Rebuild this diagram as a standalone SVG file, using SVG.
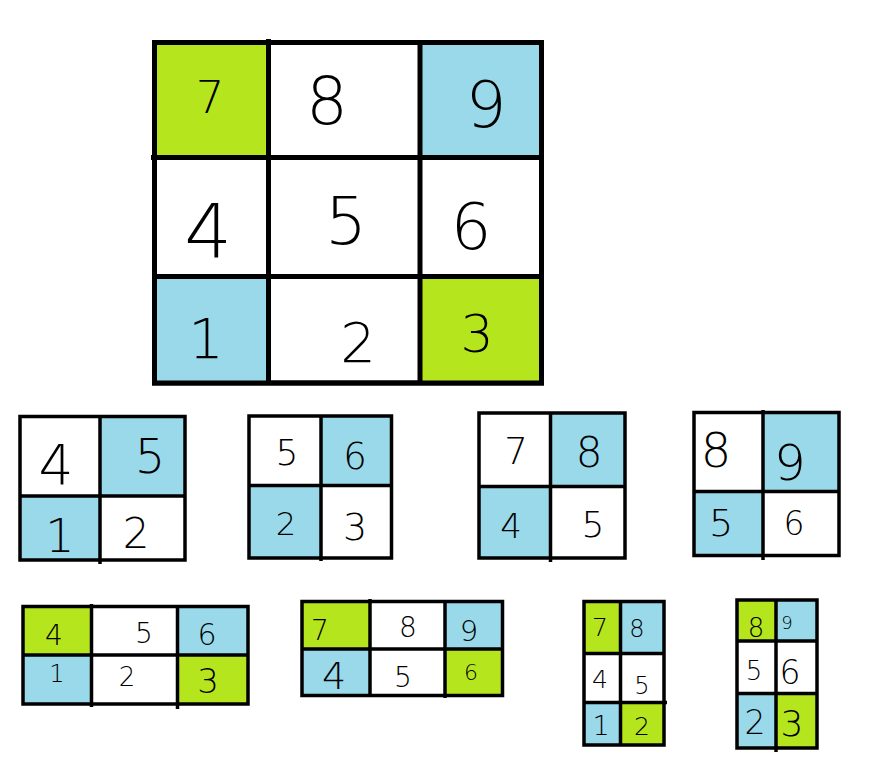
<svg xmlns="http://www.w3.org/2000/svg" width="870" height="760" viewBox="0 0 870 760">
<style>
.g{fill:#b5e61d}
.b{fill:#99d9ea}
.w{fill:#fff}
.o{fill:#fff;stroke:#000}
.l{stroke:#000;fill:none}
.t{font-family:"DejaVu Sans","Liberation Sans",sans-serif;font-weight:200;fill:#000;text-anchor:middle}
</style>
<rect width="870" height="760" fill="#fff"/>

<g id="grid-3x3">
<rect class="o" x="154.5" y="42.5" width="387" height="340.5" stroke-width="5"/>
<rect class="g" x="154.5" y="42.5" width="114" height="115"/>
<rect class="b" x="420" y="42.5" width="121.5" height="115"/>
<rect class="b" x="154.5" y="276.5" width="114" height="106.5"/>
<rect class="g" x="420" y="276.5" width="121.5" height="106.5"/>
<rect class="l" x="154.5" y="42.5" width="387" height="340.5" stroke-width="5"/>
<line class="l" x1="268.5" y1="39" x2="268.5" y2="385" stroke-width="5"/>
<line class="l" x1="420" y1="42" x2="420" y2="385" stroke-width="5"/>
<line class="l" x1="151" y1="157.5" x2="544" y2="157.5" stroke-width="5"/>
<line class="l" x1="152" y1="276.5" x2="544" y2="276.5" stroke-width="5"/>
<text class="t" x="210" y="113" font-size="45">7</text>
<text class="t" x="327" y="124" font-size="66">8</text>
<text class="t" x="486" y="127" font-size="64">9</text>
<text class="t" x="208" y="258" font-size="75">4</text>
<text class="t" x="346" y="244" font-size="66">5</text>
<text class="t" x="471" y="249" font-size="64">6</text>
<text class="t" x="206" y="358" font-size="56">1</text>
<text class="t" x="358" y="362" font-size="56">2</text>
<text class="t" x="477" y="352" font-size="52">3</text>
</g>

<g id="grid-a">
<rect class="w" x="20" y="416.5" width="165" height="143.5"/>
<rect class="b" x="100" y="416.5" width="85" height="79.5"/>
<rect class="b" x="20" y="496" width="80" height="64"/>
<rect class="l" x="20" y="416.5" width="165" height="143.5" stroke-width="3.5"/>
<line class="l" x1="100" y1="416" x2="100" y2="564" stroke-width="3.5"/>
<line class="l" x1="20" y1="496" x2="185" y2="496" stroke-width="3.5"/>
<text class="t" x="56" y="484" font-size="55">4</text>
<text class="t" x="150" y="472.5" font-size="48">5</text>
<text class="t" x="60" y="552" font-size="46">1</text>
<text class="t" x="136" y="548" font-size="42">2</text>
</g>

<g id="grid-b">
<rect class="w" x="249" y="416" width="142.5" height="142"/>
<rect class="b" x="321" y="416" width="70.5" height="69.5"/>
<rect class="b" x="249" y="485.5" width="72" height="72.5"/>
<rect class="l" x="249" y="416" width="142.5" height="142" stroke-width="3.5"/>
<line class="l" x1="321" y1="416" x2="321" y2="561" stroke-width="3.5"/>
<line class="l" x1="249" y1="485.5" x2="391.5" y2="485.5" stroke-width="3.5"/>
<text class="t" x="287" y="465" font-size="36">5</text>
<text class="t" x="355" y="468.5" font-size="37">6</text>
<text class="t" x="286" y="534.7" font-size="32">2</text>
<text class="t" x="355" y="540" font-size="38">3</text>
</g>

<g id="grid-c">
<rect class="w" x="479" y="413" width="146" height="145"/>
<rect class="b" x="550.5" y="413" width="74.5" height="73.5"/>
<rect class="b" x="479" y="486.5" width="71.5" height="71.5"/>
<rect class="l" x="479" y="413" width="146" height="145" stroke-width="3.5"/>
<line class="l" x1="550.5" y1="413" x2="550.5" y2="562" stroke-width="3.5"/>
<line class="l" x1="479" y1="486.5" x2="625" y2="486.5" stroke-width="3.5"/>
<text class="t" x="516" y="463.5" font-size="37">7</text>
<text class="t" x="589" y="467" font-size="42">8</text>
<text class="t" x="511" y="538.4" font-size="34">4</text>
<text class="t" x="593" y="537" font-size="36">5</text>
</g>

<g id="grid-d">
<rect class="w" x="694" y="412.5" width="145" height="143"/>
<rect class="b" x="763" y="412.5" width="76" height="79"/>
<rect class="b" x="694" y="491.5" width="69" height="64"/>
<rect class="l" x="694" y="412.5" width="145" height="143" stroke-width="3.5"/>
<line class="l" x1="763" y1="410" x2="763" y2="560" stroke-width="3.5"/>
<line class="l" x1="694" y1="491.5" x2="839" y2="491.5" stroke-width="3.5"/>
<text class="t" x="716" y="466.5" font-size="48">8</text>
<text class="t" x="790" y="480" font-size="50">9</text>
<text class="t" x="721" y="536" font-size="38">5</text>
<text class="t" x="794" y="535" font-size="33">6</text>
</g>

<g id="grid-e">
<rect class="w" x="23" y="606.5" width="225" height="97.5"/>
<rect class="g" x="23" y="606.5" width="68.5" height="48.5"/>
<rect class="b" x="177.5" y="606.5" width="70.5" height="48.5"/>
<rect class="b" x="23" y="655" width="68.5" height="49"/>
<rect class="g" x="177.5" y="655" width="70.5" height="49"/>
<rect class="l" x="23" y="606.5" width="225" height="97.5" stroke-width="3.5"/>
<line class="l" x1="91.5" y1="604" x2="91.5" y2="707" stroke-width="3.5"/>
<line class="l" x1="177.5" y1="606" x2="177.5" y2="709" stroke-width="3.5"/>
<line class="l" x1="23" y1="655" x2="248" y2="655" stroke-width="3.5"/>
<text class="t" x="54" y="645" font-size="28">4</text>
<text class="t" x="144" y="643" font-size="28">5</text>
<text class="t" x="207" y="645" font-size="30">6</text>
<text class="t" x="57" y="682" font-size="24">1</text>
<text class="t" x="127" y="685.5" font-size="26">2</text>
<text class="t" x="208" y="693.4" font-size="34">3</text>
</g>

<g id="grid-f">
<rect class="w" x="302" y="601.5" width="200.5" height="94"/>
<rect class="g" x="302" y="601.5" width="68" height="47.5"/>
<rect class="b" x="445" y="601.5" width="57.5" height="47.5"/>
<rect class="b" x="302" y="649" width="68" height="46.5"/>
<rect class="g" x="445" y="649" width="57.5" height="46.5"/>
<rect class="l" x="302" y="601.5" width="200.5" height="94" stroke-width="3.5"/>
<line class="l" x1="370" y1="599" x2="370" y2="695" stroke-width="3.5"/>
<line class="l" x1="445" y1="601" x2="445" y2="698" stroke-width="3.5"/>
<line class="l" x1="302" y1="649" x2="502.5" y2="649" stroke-width="3.5"/>
<text class="t" x="320" y="640" font-size="28">7</text>
<text class="t" x="408" y="637" font-size="28">8</text>
<text class="t" x="469" y="640.6" font-size="29">9</text>
<text class="t" x="334" y="689" font-size="38">4</text>
<text class="t" x="403" y="687" font-size="28">5</text>
<text class="t" x="471" y="680" font-size="22">6</text>
</g>

<g id="grid-g">
<rect class="w" x="584" y="601.5" width="80" height="143.5"/>
<rect class="g" x="584" y="601.5" width="36.5" height="52"/>
<rect class="b" x="620.5" y="601.5" width="43.5" height="52"/>
<rect class="b" x="584" y="702.5" width="36.5" height="42.5"/>
<rect class="g" x="620.5" y="702.5" width="43.5" height="42.5"/>
<rect class="l" x="584" y="601.5" width="80" height="143.5" stroke-width="3.5"/>
<line class="l" x1="620.5" y1="601" x2="620.5" y2="745" stroke-width="3.5"/>
<line class="l" x1="584" y1="653.5" x2="664" y2="653.5" stroke-width="3.5"/>
<line class="l" x1="584" y1="702.5" x2="667" y2="702.5" stroke-width="3.5"/>
<text class="t" x="600" y="636" font-size="25">7</text>
<text class="t" x="637" y="636.8" font-size="24">8</text>
<text class="t" x="600" y="688" font-size="25">4</text>
<text class="t" x="642" y="694" font-size="24">5</text>
<text class="t" x="601" y="735" font-size="27">1</text>
<text class="t" x="642" y="735" font-size="25">2</text>
</g>

<g id="grid-h">
<rect class="w" x="737" y="600" width="80" height="148"/>
<rect class="g" x="737" y="600" width="39" height="41"/>
<rect class="b" x="776" y="600" width="41" height="41"/>
<rect class="b" x="737" y="693.5" width="39" height="54.5"/>
<rect class="g" x="776" y="693.5" width="41" height="54.5"/>
<rect class="l" x="737" y="600" width="80" height="148" stroke-width="3.5"/>
<line class="l" x1="776" y1="600" x2="776" y2="752" stroke-width="3.5"/>
<line class="l" x1="737" y1="641" x2="817" y2="641" stroke-width="3.5"/>
<line class="l" x1="737" y1="693.5" x2="817" y2="693.5" stroke-width="3.5"/>
<text class="t" x="756" y="636.5" font-size="26">8</text>
<text class="t" x="787" y="628.6" font-size="18">9</text>
<text class="t" x="754" y="679.5" font-size="26">5</text>
<text class="t" x="790" y="684" font-size="33">6</text>
<text class="t" x="755" y="734" font-size="33">2</text>
<text class="t" x="792" y="736" font-size="36">3</text>
</g>
</svg>
